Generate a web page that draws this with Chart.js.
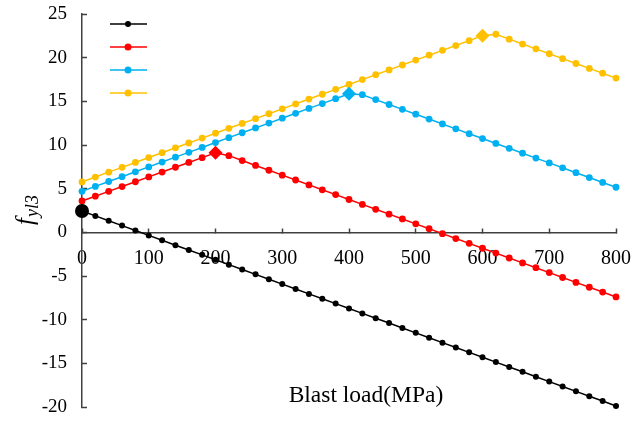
<!DOCTYPE html>
<html>
<head>
<meta charset="utf-8">
<script src="https://cdn.jsdelivr.net/npm/chart.js@4.4.1/dist/chart.umd.min.js"></script>
<style>
  html, body { margin: 0; padding: 0; background: #fff; }
  #caja { width: 643px; height: 421px; }
</style>
</head>
<body>
<div id="caja"><canvas id="grafico"></canvas></div>
<script>
// carga de explosion (MPa), cada 20
var cargas = [0, 20, 40, 60, 80, 100, 120, 140, 160, 180, 200, 220, 240, 260, 280, 300, 320, 340, 360, 380, 400,
  420, 440, 460, 480, 500, 520, 540, 560, 580, 600, 620, 640, 660, 680, 700, 720, 740, 760, 780, 800];

var serieNegra = [2.44, 1.88, 1.32, 0.77, 0.21, -0.35, -0.91, -1.47, -2.02, -2.58, -3.14, -3.70, -4.26, -4.81,
  -5.37, -5.93, -6.49, -7.05, -7.60, -8.16, -8.72, -9.28, -9.84, -10.39, -10.95, -11.51, -12.07, -12.63,
  -13.18, -13.74, -14.30, -14.86, -15.42, -15.97, -16.53, -17.09, -17.65, -18.21, -18.76, -19.32, -19.88];

var serieRoja = [3.59, 4.14, 4.69, 5.24, 5.79, 6.35, 6.90, 7.45, 8.00, 8.55, 9.10, 8.78, 8.22, 7.66, 7.11,
  6.55, 5.99, 5.43, 4.87, 4.32, 3.76, 3.20, 2.64, 2.08, 1.53, 0.97, 0.41, -0.15, -0.71, -1.26, -1.82, -2.38,
  -2.94, -3.50, -4.05, -4.61, -5.17, -5.73, -6.29, -6.84, -7.40];

var serieAzul = [4.70, 5.26, 5.82, 6.37, 6.93, 7.49, 8.05, 8.61, 9.16, 9.72, 10.28, 10.84, 11.40, 11.95, 12.51,
  13.07, 13.63, 14.19, 14.74, 15.30, 15.86, 15.76, 15.20, 14.64, 14.08, 13.53, 12.97, 12.41, 11.85, 11.29,
  10.74, 10.18, 9.62, 9.06, 8.50, 7.95, 7.39, 6.83, 6.27, 5.71, 5.16];

var serieAmarilla = [5.77, 6.33, 6.89, 7.44, 8.00, 8.56, 9.12, 9.68, 10.23, 10.79, 11.35, 11.91, 12.47, 13.02,
  13.58, 14.14, 14.70, 15.26, 15.81, 16.37, 16.93, 17.49, 18.05, 18.60, 19.16, 19.72, 20.28, 20.84, 21.39,
  21.95, 22.51, 22.68, 22.12, 21.56, 21.01, 20.45, 19.89, 19.33, 18.77, 18.22, 17.66];

// indice del punto destacado de cada serie
var picos = [0, 10, 20, 30];

var ticksX = [0, 100, 200, 300, 400, 500, 600, 700, 800];
var ticksY = [-20, -15, -10, -5, 0, 5, 10, 15, 20, 25];

var colores = ['#000000', '#ff0000', '#00b0f0', '#ffc000'];
var series = [serieNegra, serieRoja, serieAzul, serieAmarilla];

var fuente = '"Liberation Serif", "Times New Roman", serif';
var ejeColor = '#404040';

function armarDatos(serie) {
  return cargas.map(function (c, i) { return { x: c, y: serie[i] }; });
}

var datasets = series.map(function (serie, k) {
  return {
    data: armarDatos(serie),
    borderColor: colores[k],
    backgroundColor: colores[k],
    borderWidth: 1.5,
    pointBorderWidth: 0,
    clip: false,
    pointStyle: function (ctx) {
      return (ctx.dataIndex === picos[k] && k > 0) ? 'rectRot' : 'circle';
    },
    pointRadius: function (ctx) {
      if (ctx.dataIndex === picos[k]) return 7;
      return k === 0 ? 3 : 3.4;
    }
  };
});

// leyenda sin texto, solo muestras
var leyenda = {
  id: 'leyenda',
  afterDraw: function (chart) {
    var c = chart.ctx, a = chart.chartArea;
    c.save();
    for (var k = 0; k < colores.length; k++) {
      var y = a.top + 10 + k * 23;
      c.strokeStyle = colores[k];
      c.lineWidth = 1.5;
      c.beginPath();
      c.moveTo(a.left + 28, y);
      c.lineTo(a.left + 65, y);
      c.stroke();
      c.fillStyle = colores[k];
      c.beginPath();
      c.arc(a.left + 46, y, k === 0 ? 3 : 3.5, 0, Math.PI * 2);
      c.fill();
    }
    c.restore();
  }
};

// titulos de los ejes
var titulos = {
  id: 'titulos',
  afterDraw: function (chart) {
    var c = chart.ctx, a = chart.chartArea;
    c.save();
    c.fillStyle = '#000';
    c.textBaseline = 'alphabetic';
    c.textAlign = 'center';
    c.font = '23.5px ' + fuente;
    c.fillText('Blast load(MPa)', (a.left + a.right) / 2 + 17, a.bottom - 5);

    c.translate(33, (a.top + a.bottom) / 2);
    c.rotate(-Math.PI / 2);
    c.textAlign = 'left';
    c.font = 'italic 25px ' + fuente;
    var w1 = c.measureText('f').width;
    c.font = 'italic 18px ' + fuente;
    var w2 = c.measureText('yl3').width;
    var x0 = -(w1 + w2) / 2;
    c.font = 'italic 25px ' + fuente;
    c.fillText('f', x0, 0);
    c.font = 'italic 18px ' + fuente;
    c.fillText('yl3', x0 + w1 + 1, 5);
    c.restore();
  }
};

new Chart(document.getElementById('grafico').getContext('2d'), {
  type: 'line',
  data: { datasets: datasets },
  plugins: [leyenda, titulos],
  options: {
    responsive: true,
    maintainAspectRatio: false,
    animation: false,
    events: [],
    layout: { padding: { left: 0, right: 27, top: 14, bottom: 14 } },
    plugins: { legend: { display: false }, tooltip: { enabled: false } },
    scales: {
      x: {
        type: 'linear',
        min: 0,
        max: 800,
        position: { y: 0 },
        afterBuildTicks: function (scale) {
          scale.ticks = ticksX.map(function (v) { return { value: v }; });
        },
        // el eje cruza en y=0, no debe ocupar espacio
        afterFit: function (scale) { scale.height = 0; scale.paddingLeft = 0; scale.paddingRight = 0; },
        ticks: { color: '#000', padding: 19, font: { family: fuente, size: 20 }, maxRotation: 0 },
        grid: { drawOnChartArea: false, tickLength: -5, color: ejeColor, tickWidth: 1.5 },
        border: { color: ejeColor, width: 1.5 }
      },
      y: {
        type: 'linear',
        min: -20,
        max: 25,
        afterBuildTicks: function (scale) {
          scale.ticks = ticksY.map(function (v) { return { value: v }; });
        },
        afterFit: function (scale) { scale.width = 82; scale.paddingTop = 0; scale.paddingBottom = 0; },
        ticks: { color: '#000', padding: 20, font: { family: fuente, size: 19 } },
        grid: { drawOnChartArea: false, tickLength: -5, color: ejeColor, tickWidth: 1.5 },
        border: { color: ejeColor, width: 1.5 }
      }
    }
  }
});
</script>
</body>
</html>
